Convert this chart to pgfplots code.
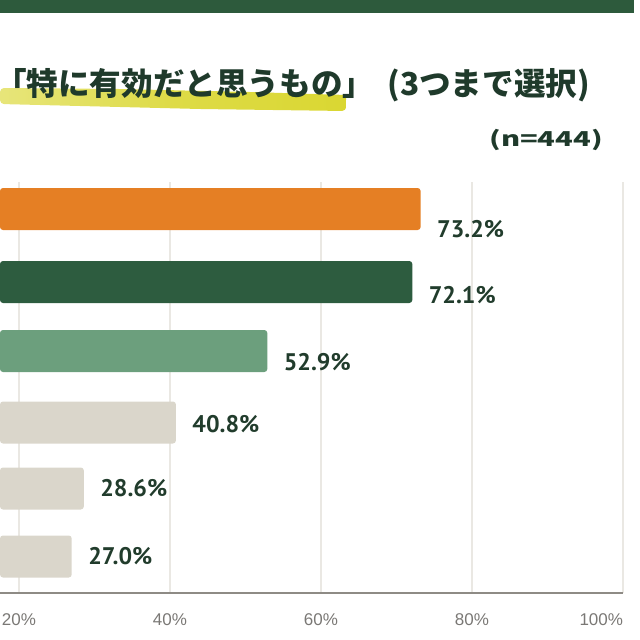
\documentclass[border=0pt]{standalone}
\usepackage{pgfplots}
\pgfplotsset{compat=1.18}
\usepackage{fontspec}
\setmainfont{Liberation Sans}
\newfontfamily\cjk{Noto Sans CJK JP}
\newfontfamily\lab{PT Sans}
\definecolor{bandgreen}{HTML}{2D5A3C}
\definecolor{titlecol}{HTML}{1F3A2B}
\definecolor{barorange}{HTML}{E57F24}
\definecolor{bardark}{HTML}{2D5C3F}
\definecolor{barlight}{HTML}{6C9F7D}
\definecolor{barbeige}{HTML}{DAD6CB}
\definecolor{labcol}{HTML}{213C2C}
\definecolor{gridcol}{HTML}{EAE8E3}
\definecolor{axiscol}{HTML}{8E8B85}
\definecolor{tickcol}{HTML}{7A7875}
\definecolor{brush}{HTML}{DAD732}
\begin{document}
\begin{tikzpicture}
\useasboundingbox (0,0) rectangle (640bp,-640bp);
% top band
\fill[bandgreen] (0,0) rectangle (634bp,-13bp);
% brush underline
\shade[left color=brush!65!white, right color=brush, middle color=brush!90!white, rounded corners=4bp]
  (0bp,-88bp) -- (120bp,-89bp) -- (250bp,-92bp) -- (347bp,-95bp)
  -- (346bp,-111bp) -- (200bp,-109bp) -- (0bp,-104bp) -- cycle;
% title
\node[anchor=base west, inner sep=0pt, text=titlecol] at (10bp,-95bp)
  {\cjk\bfseries\fontsize{31.6bp}{36bp}\selectfont \hspace*{-15bp}「特に有効だと思うもの」\hspace{13bp}(3つまで選択)};
\node[anchor=base east, inner sep=0pt, text=titlecol] at (603bp,-146bp)
  {\scalebox{1.42}[1]{\cjk\bfseries\fontsize{20.5bp}{25bp}\selectfont (n=444)}};
\begin{axis}[
  at={(0bp,-593bp)}, anchor=south west,
  scale only axis, width=623bp, height=411bp,
  xmin=17.5, xmax=100, ymin=182, ymax=593, y dir=reverse,
  xbar, bar width=42, bar shift=0pt,
  axis y line=none, axis x line*=bottom,
  x axis line style={draw=axiscol, line width=2bp, -},
  xmajorgrids, grid style={draw=gridcol, line width=1.5bp},
  xtick={20,40,60,80,100}, major tick length=0pt,
  xticklabels={20\%,40\%,60\%,80\%,\makebox[0pt][r]{100\%}\hspace{-2bp}},
  xticklabel style={text=tickcol, font=\fontsize{17bp}{20bp}\selectfont, yshift=-17bp},
  ytick=\empty,
  /pgf/number format/assume math mode=true,
  nodes near coords={\pgfmathprintnumber[fixed,fixed zerofill,precision=1]{\pgfplotspointmeta}\%},
  every node near coord/.append style={anchor=west, xshift=13bp, text=labcol,
     font=\lab\bfseries\fontsize{24bp}{28bp}\selectfont},
  clip=true,
]
\addplot[fill=barorange, draw=none, rounded corners=3bp, every node near coord/.append style={yshift=-20bp}] coordinates {(73.2,209)};
\addplot[fill=bardark, draw=none, rounded corners=3bp, every node near coord/.append style={yshift=-13bp}] coordinates {(72.1,282)};
\addplot[fill=barlight, draw=none, rounded corners=3bp, every node near coord/.append style={yshift=-11bp}] coordinates {(52.9,351)};
\addplot[fill=barbeige, draw=none, rounded corners=3bp, every node near coord/.append style={yshift=-1.5bp}] coordinates {(40.8,422.5)};
\addplot[fill=barbeige, draw=none, rounded corners=3bp] coordinates {(28.6,488.5)};
\addplot[fill=barbeige, draw=none, rounded corners=3bp] coordinates {(27.0,556.5)};
\end{axis}
\end{tikzpicture}
\end{document}
